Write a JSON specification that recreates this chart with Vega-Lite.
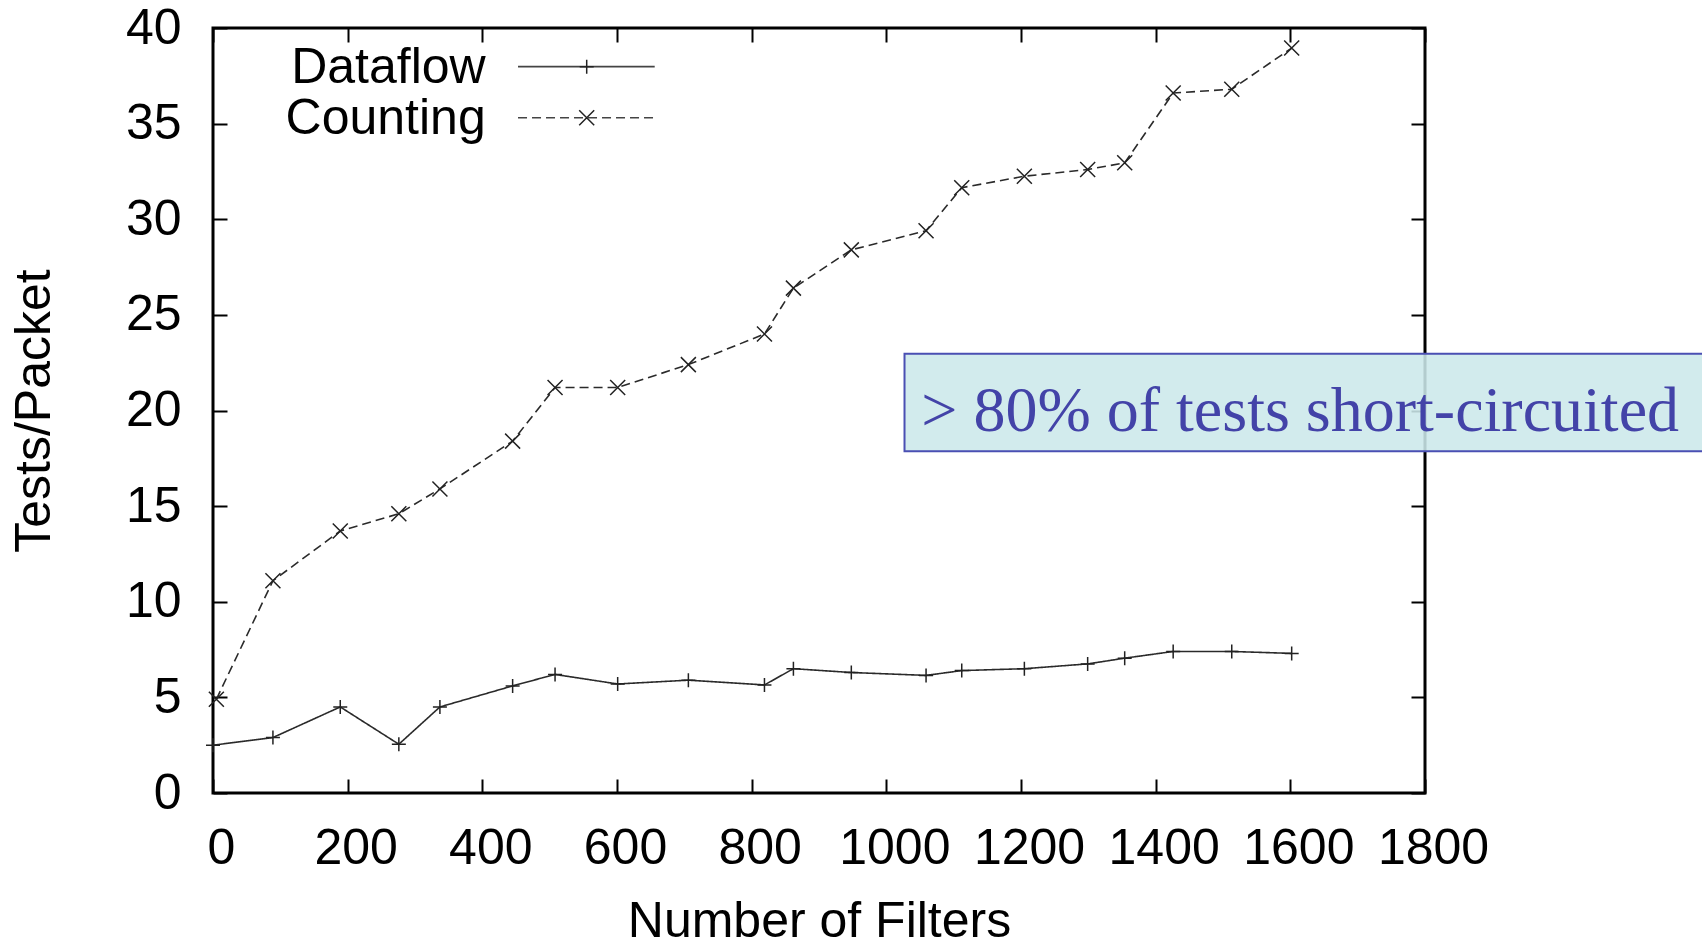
{
  "$schema": "https://vega.github.io/schema/vega-lite/v6.json",
  "width": 1212,
  "height": 765,
  "autosize": {"type": "none"},
  "padding": {"left": 213, "top": 28, "right": 277, "bottom": 151},
  "background": "white",
  "config": {
    "view": {"stroke": "black", "strokeWidth": 3},
    "font": "Liberation Sans",
    "axis": {
      "domain": false, "grid": false, "tickColor": "black", "tickWidth": 2, "tickSize": -14,
      "labelFontSize": 50, "labelColor": "black", "labelFont": "Liberation Sans",
      "titleFontSize": 50, "titleFontWeight": "normal", "titleColor": "black", "titleFont": "Liberation Sans"
    }
  },
  "datasets": {
    "points": [
      {"series": "Dataflow", "n": 0, "v": 2.5},
      {"series": "Dataflow", "n": 89, "v": 2.9},
      {"series": "Dataflow", "n": 189, "v": 4.5},
      {"series": "Dataflow", "n": 276, "v": 2.55},
      {"series": "Dataflow", "n": 337, "v": 4.5},
      {"series": "Dataflow", "n": 445, "v": 5.6},
      {"series": "Dataflow", "n": 508, "v": 6.2},
      {"series": "Dataflow", "n": 601, "v": 5.7},
      {"series": "Dataflow", "n": 706, "v": 5.9},
      {"series": "Dataflow", "n": 819, "v": 5.65},
      {"series": "Dataflow", "n": 862, "v": 6.5},
      {"series": "Dataflow", "n": 948, "v": 6.3},
      {"series": "Dataflow", "n": 1059, "v": 6.15},
      {"series": "Dataflow", "n": 1112, "v": 6.4},
      {"series": "Dataflow", "n": 1205, "v": 6.5},
      {"series": "Dataflow", "n": 1299, "v": 6.75},
      {"series": "Dataflow", "n": 1354, "v": 7.05},
      {"series": "Dataflow", "n": 1426, "v": 7.4},
      {"series": "Dataflow", "n": 1513, "v": 7.4},
      {"series": "Dataflow", "n": 1602, "v": 7.3},
      {"series": "Counting", "n": 5, "v": 4.9},
      {"series": "Counting", "n": 89, "v": 11.1},
      {"series": "Counting", "n": 189, "v": 13.7},
      {"series": "Counting", "n": 276, "v": 14.6},
      {"series": "Counting", "n": 337, "v": 15.9},
      {"series": "Counting", "n": 445, "v": 18.4},
      {"series": "Counting", "n": 508, "v": 21.2},
      {"series": "Counting", "n": 601, "v": 21.2},
      {"series": "Counting", "n": 706, "v": 22.4},
      {"series": "Counting", "n": 819, "v": 24.0},
      {"series": "Counting", "n": 862, "v": 26.4},
      {"series": "Counting", "n": 948, "v": 28.4},
      {"series": "Counting", "n": 1059, "v": 29.4},
      {"series": "Counting", "n": 1112, "v": 31.65},
      {"series": "Counting", "n": 1205, "v": 32.25},
      {"series": "Counting", "n": 1299, "v": 32.6},
      {"series": "Counting", "n": 1354, "v": 32.95},
      {"series": "Counting", "n": 1426, "v": 36.6},
      {"series": "Counting", "n": 1513, "v": 36.8},
      {"series": "Counting", "n": 1602, "v": 38.95}
    ],
    "legendrows": [
      {"series": "Dataflow"},
      {"series": "Counting"}
    ],
    "note": [
      {"label": "> 80% of tests short-circuited"}
    ]
  },
  "resolve": {"axis": {"x": "independent", "y": "independent"}},
  "layer": [
    {
      "data": {"name": "points"},
      "mark": {"type": "line", "color": "#2a2a2a", "strokeWidth": 1.6},
      "encoding": {
        "x": {"field": "n", "type": "quantitative",
          "scale": {"domain": [0, 1800], "nice": false, "zero": false},
          "axis": {"orient": "bottom", "values": [0, 200, 400, 600, 800, 1000, 1200, 1400, 1600, 1800], "format": "d",
            "labelPadding": 44, "labelOffset": 8, "title": "Number of Filters", "titlePadding": 23, "labelFlush": false}},
        "y": {"field": "v", "type": "quantitative",
          "scale": {"domain": [0, 40], "nice": false, "zero": false},
          "axis": {"orient": "left", "values": [0, 5, 10, 15, 20, 25, 30, 35, 40],
            "labelPadding": 46, "title": "Tests/Packet", "titlePadding": 66}},
        "detail": {"field": "series", "type": "nominal"},
        "strokeDash": {"field": "series", "type": "nominal",
          "scale": {"domain": ["Dataflow", "Counting"], "range": [[1, 0], [9, 5]]}, "legend": null}
      }
    },
    {
      "data": {"name": "points"},
      "transform": [{"filter": "datum.series === 'Dataflow'"}],
      "mark": {"type": "point", "shape": "M-1,0L1,0M0,-1L0,1", "filled": false, "stroke": "#222", "strokeWidth": 1.5, "size": 196, "opacity": 1},
      "encoding": {
        "x": {"field": "n", "type": "quantitative",
          "scale": {"domain": [0, 1800], "nice": false, "zero": false},
          "axis": {"orient": "top", "values": [0, 200, 400, 600, 800, 1000, 1200, 1400, 1600, 1800], "labels": false, "title": null}},
        "y": {"field": "v", "type": "quantitative",
          "scale": {"domain": [0, 40], "nice": false, "zero": false},
          "axis": {"orient": "right", "values": [0, 5, 10, 15, 20, 25, 30, 35, 40], "labels": false, "title": null}}
      }
    },
    {
      "data": {"name": "points"},
      "transform": [{"filter": "datum.series === 'Counting'"}],
      "mark": {"type": "point", "shape": "M-1,-1L1,1M-1,1L1,-1", "filled": false, "stroke": "#222", "strokeWidth": 1.5, "size": 225, "opacity": 1},
      "encoding": {
        "x": {"field": "n", "type": "quantitative", "scale": {"domain": [0, 1800], "nice": false, "zero": false}, "axis": null},
        "y": {"field": "v", "type": "quantitative", "scale": {"domain": [0, 40], "nice": false, "zero": false}, "axis": null}
      }
    },
    {
      "data": {"name": "legendrows"},
      "transform": [{"filter": "datum.series === 'Dataflow'"}],
      "mark": {"type": "text", "fontSize": 50, "font": "Liberation Sans", "color": "black", "align": "right", "baseline": "alphabetic"},
      "encoding": {
        "text": {"field": "series", "type": "nominal"},
        "x": {"datum": 405, "type": "quantitative", "scale": {"domain": [0, 1800], "nice": false, "zero": false}, "axis": null},
        "y": {"datum": 37.1, "type": "quantitative", "scale": {"domain": [0, 40], "nice": false, "zero": false}, "axis": null}
      }
    },
    {
      "data": {"name": "legendrows"},
      "transform": [{"filter": "datum.series === 'Counting'"}],
      "mark": {"type": "text", "fontSize": 50, "font": "Liberation Sans", "color": "black", "align": "right", "baseline": "alphabetic"},
      "encoding": {
        "text": {"field": "series", "type": "nominal"},
        "x": {"datum": 405, "type": "quantitative", "scale": {"domain": [0, 1800], "nice": false, "zero": false}, "axis": null},
        "y": {"datum": 34.46, "type": "quantitative", "scale": {"domain": [0, 40], "nice": false, "zero": false}, "axis": null}
      }
    },
    {
      "data": {"name": "legendrows"},
      "transform": [{"filter": "datum.series === 'Dataflow'"}],
      "mark": {"type": "rule", "color": "#444", "strokeWidth": 1.6},
      "encoding": {
        "x": {"datum": 453, "type": "quantitative", "scale": {"domain": [0, 1800], "nice": false, "zero": false}, "axis": null},
        "x2": {"datum": 656},
        "y": {"datum": 37.98, "type": "quantitative", "scale": {"domain": [0, 40], "nice": false, "zero": false}, "axis": null}
      }
    },
    {
      "data": {"name": "legendrows"},
      "transform": [{"filter": "datum.series === 'Counting'"}],
      "mark": {"type": "rule", "color": "#444", "strokeWidth": 1.6, "strokeDash": [9, 5]},
      "encoding": {
        "x": {"datum": 453, "type": "quantitative", "scale": {"domain": [0, 1800], "nice": false, "zero": false}, "axis": null},
        "x2": {"datum": 656},
        "y": {"datum": 35.31, "type": "quantitative", "scale": {"domain": [0, 40], "nice": false, "zero": false}, "axis": null}
      }
    },
    {
      "data": {"name": "legendrows"},
      "transform": [{"filter": "datum.series === 'Dataflow'"}],
      "mark": {"type": "point", "shape": "M-1,0L1,0M0,-1L0,1", "filled": false, "stroke": "#222", "strokeWidth": 1.5, "size": 196, "opacity": 1},
      "encoding": {
        "x": {"datum": 555, "type": "quantitative", "scale": {"domain": [0, 1800], "nice": false, "zero": false}, "axis": null},
        "y": {"datum": 37.98, "type": "quantitative", "scale": {"domain": [0, 40], "nice": false, "zero": false}, "axis": null}
      }
    },
    {
      "data": {"name": "legendrows"},
      "transform": [{"filter": "datum.series === 'Counting'"}],
      "mark": {"type": "point", "shape": "M-1,-1L1,1M-1,1L1,-1", "filled": false, "stroke": "#222", "strokeWidth": 1.5, "size": 225, "opacity": 1},
      "encoding": {
        "x": {"datum": 555, "type": "quantitative", "scale": {"domain": [0, 1800], "nice": false, "zero": false}, "axis": null},
        "y": {"datum": 35.31, "type": "quantitative", "scale": {"domain": [0, 40], "nice": false, "zero": false}, "axis": null}
      }
    },
    {
      "data": {"name": "note"},
      "mark": {"type": "rect", "fill": "#cce8ea", "fillOpacity": 0.88, "stroke": "#4a4fb3", "strokeWidth": 2},
      "encoding": {
        "x": {"datum": 1027, "type": "quantitative", "scale": {"domain": [0, 1800], "nice": false, "zero": false}, "axis": null},
        "x2": {"datum": 2215},
        "y": {"datum": 17.87, "type": "quantitative", "scale": {"domain": [0, 40], "nice": false, "zero": false}, "axis": null},
        "y2": {"datum": 22.97}
      }
    },
    {
      "data": {"name": "note"},
      "mark": {"type": "text", "font": "Liberation Serif", "fontSize": 64, "color": "#4343a8", "align": "left", "baseline": "alphabetic"},
      "encoding": {
        "text": {"field": "label", "type": "nominal"},
        "x": {"datum": 1052, "type": "quantitative", "scale": {"domain": [0, 1800], "nice": false, "zero": false}, "axis": null},
        "y": {"datum": 18.95, "type": "quantitative", "scale": {"domain": [0, 40], "nice": false, "zero": false}, "axis": null}
      }
    }
  ]
}
